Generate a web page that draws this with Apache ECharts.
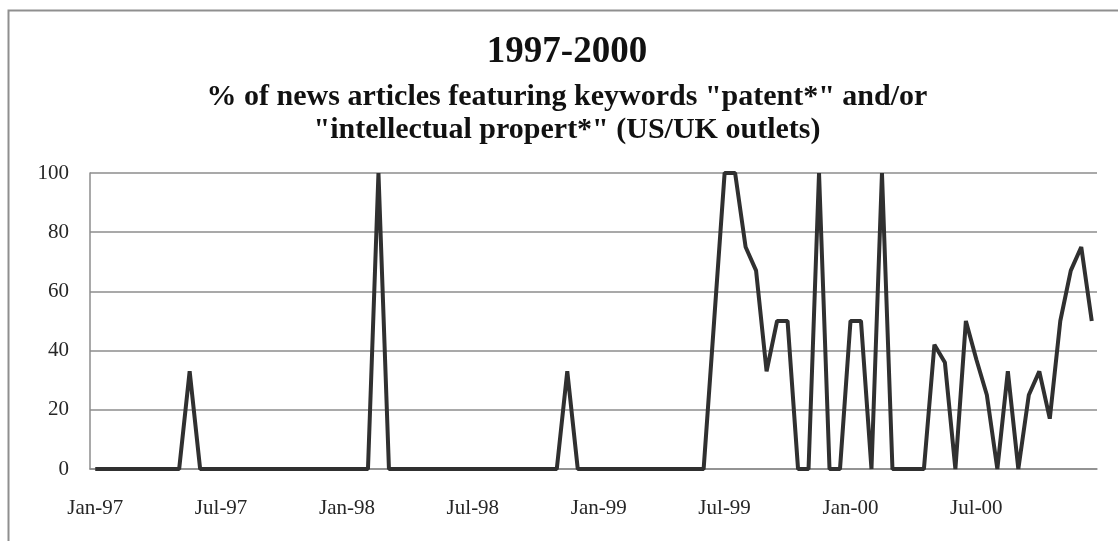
<!DOCTYPE html>
<html>
<head>
<meta charset="utf-8">
<script src="https://cdn.jsdelivr.net/npm/echarts@6/dist/echarts.min.js"></script>
<style>
  html, body { margin: 0; padding: 0; background: #fff; }
  #main { width: 1118px; height: 541px; }
</style>
</head>
<body>
<div id="main"></div>
<script>
// half-month periods, Jan-97 .. Dec-00 (96 points)
var monthNames = ['Jan', 'Feb', 'Mar', 'Apr', 'May', 'Jun', 'Jul', 'Aug', 'Sep', 'Oct', 'Nov', 'Dec'];
var years = ['97', '98', '99', '00'];
var periods = [];
years.forEach(function (y) {
    monthNames.forEach(function (m) {
        periods.push(m + '-' + y + ' a');
        periods.push(m + '-' + y + ' b');
    });
});

// labels shown every 12 periods (6 months)
var tickLabels = ['Jan-97', 'Jul-97', 'Jan-98', 'Jul-98', 'Jan-99', 'Jul-99', 'Jan-00', 'Jul-00'];

// % of news articles
var share = [
    0, 0, 0, 0, 0, 0, 0, 0, 0, 33, 0, 0,
    0, 0, 0, 0, 0, 0, 0, 0, 0, 0, 0, 0,
    0, 0, 0, 100, 0, 0, 0, 0, 0, 0, 0, 0,
    0, 0, 0, 0, 0, 0, 0, 0, 0, 33, 0, 0,
    0, 0, 0, 0, 0, 0, 0, 0, 0, 0, 0, 50,
    100, 100, 75, 67, 33, 50, 50, 0, 0, 100, 0, 0,
    50, 50, 0, 100, 0, 0, 0, 0, 42, 36, 0, 50,
    37, 25, 0, 33, 0, 25, 33, 17, 50, 67, 75, 50
];

var yTicks = [0, 20, 40, 60, 80, 100];

var serif = '"Liberation Serif", "DejaVu Serif", serif';
var gridGray = '#8c8c8c';

var chart = echarts.init(document.getElementById('main'));
chart.setOption({
    backgroundColor: '#fff',
    animation: false,
    title: {
        text: '1997-2000',
        subtext: '% of news articles featuring keywords "patent*" and/or\n"intellectual propert*" (US/UK outlets)',
        left: 562,
        top: 29,
        textAlign: 'center',
        itemGap: 10,
        textStyle: { fontFamily: serif, fontSize: 37, fontWeight: 'bold', color: '#111' },
        subtextStyle: { fontFamily: serif, fontSize: 30, fontWeight: 'bold', color: '#111', lineHeight: 32.5 }
    },
    graphic: [{
        type: 'rect',
        shape: { x: 8.5, y: 10.5, width: 1200, height: 600 },
        style: { fill: null, stroke: '#8f8f8f', lineWidth: 2 },
        silent: true
    }],
    grid: { left: 90, right: 21, top: 173, bottom: 72 },
    xAxis: {
        type: 'category',
        data: periods,
        boundaryGap: true,
        axisLine: { lineStyle: { color: gridGray, width: 1.5 } },
        axisTick: { show: false },
        axisLabel: {
            interval: 11,
            margin: 29,
            fontFamily: serif,
            fontSize: 21,
            color: '#262626',
            formatter: function (v, i) { return tickLabels[i / 12]; }
        },
        splitLine: { show: false }
    },
    yAxis: {
        type: 'value',
        min: yTicks[0],
        max: yTicks[yTicks.length - 1],
        interval: 20,
        axisLine: { show: true, lineStyle: { color: gridGray, width: 1.5 } },
        axisTick: { show: false },
        axisLabel: { margin: 21, fontFamily: serif, fontSize: 21, color: '#262626' },
        splitLine: { lineStyle: { color: gridGray, width: 1.5 } }
    },
    series: [{
        type: 'line',
        data: share,
        symbol: 'none',
        lineStyle: { color: '#303030', width: 4 }
    }]
});
</script>
</body>
</html>
